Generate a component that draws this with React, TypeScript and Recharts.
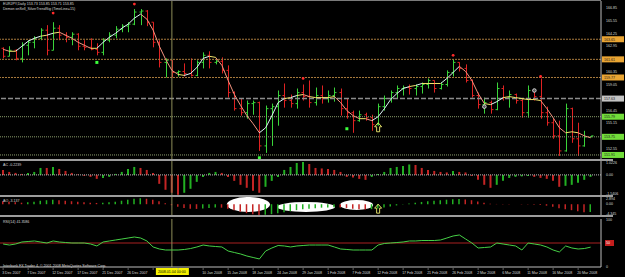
import React from 'react';
import { ComposedChart, Bar, Line, Scatter, XAxis, YAxis, ReferenceLine, ReferenceArea, Cell } from 'recharts';

// bar index -> date label, every 4th bar
const dateTickIdx = [0, 4, 8, 12, 16, 20, 24, 28, 32, 36, 40, 44, 48, 52, 56, 60, 64, 68, 72, 76, 80, 84, 88, 92];
const dateLabels = [
  '3 Dec 2007', '7 Dec 2007', '12 Dec 2007', '17 Dec 2007', '21 Dec 2007', '26 Dec 2007',
  '31 Dec 2007', '6 Jan 2008', '10 Jan 2008', '15 Jan 2008', '18 Jan 2008', '24 Jan 2008',
  '29 Jan 2008', '1 Feb 2008', '7 Feb 2008', '12 Feb 2008', '17 Feb 2008', '21 Feb 2008',
  '26 Feb 2008', '2 Mar 2008', '6 Mar 2008', '11 Mar 2008', '16 Mar 2008', '20 Mar 2008',
];
// labels covered by the crosshair date box
const hiddenDateIdx = [24, 28];

const opens = [
  162.73, 161.92, 162.53, 161.71, 163.04, 163.34, 163.75, 164.57, 162.53, 164.77,
  164.06, 163.85, 164.16, 162.94, 162.83, 162.63, 162.32, 163.55, 164.06, 164.67,
  164.98, 165.18, 166.41, 166.51, 165.38, 163.34, 161.30, 161.51, 160.28, 160.38,
  160.18, 159.98, 161.30, 162.02, 161.30, 161.41, 160.49, 158.24, 156.61, 156.20,
  157.12, 157.22, 152.83, 156.61, 156.81, 157.94, 157.43, 157.12, 158.24, 157.83,
  157.22, 157.94, 157.63, 157.94, 158.24, 156.61, 156.20, 155.39, 155.99, 155.69,
  154.98, 156.81, 157.63, 158.24, 158.65, 158.75, 158.65, 158.85, 159.06, 159.47,
  158.65, 159.06, 160.28, 161.30, 160.69, 159.47, 157.94, 157.02, 157.22, 156.51,
  158.65, 157.73, 158.04, 157.43, 156.20, 158.45, 157.83, 156.20, 155.18, 153.85,
  152.32, 156.61, 153.55, 152.83, 153.73,
];
const highs = [
  162.83, 162.94, 162.63, 163.34, 163.55, 163.96, 164.77, 165.08, 165.38, 165.08,
  164.36, 164.36, 164.26, 163.55, 163.75, 163.24, 163.75, 164.36, 164.98, 165.18,
  165.38, 166.71, 166.71, 166.61, 165.38, 163.55, 161.71, 161.51, 160.49, 161.20,
  161.71, 161.51, 162.32, 162.43, 161.61, 161.81, 161.00, 158.35, 157.63, 157.43,
  157.43, 157.32, 156.92, 157.12, 158.45, 159.16, 158.04, 158.65, 159.06, 159.47,
  158.75, 158.96, 158.45, 158.75, 158.65, 157.63, 156.41, 156.41, 156.20, 155.99,
  157.12, 157.94, 158.45, 158.96, 158.96, 159.06, 159.06, 159.26, 159.67, 159.47,
  159.26, 160.49, 161.61, 161.30, 161.10, 159.57, 158.24, 157.73, 157.43, 159.26,
  158.96, 158.45, 158.14, 157.63, 158.96, 158.45, 159.67, 156.81, 155.59, 155.39,
  157.12, 156.71, 155.18, 154.36, 153.85,
];
const lows = [
  161.71, 161.92, 161.51, 161.30, 162.02, 162.73, 163.55, 162.02, 162.53, 163.55,
  163.34, 163.04, 162.53, 162.53, 162.53, 162.02, 162.02, 163.34, 163.75, 164.36,
  164.36, 165.08, 165.08, 164.98, 162.83, 160.79, 159.77, 159.77, 159.87, 159.87,
  159.87, 159.90, 160.69, 160.69, 161.10, 160.18, 157.73, 156.41, 155.90, 155.59,
  155.99, 152.32, 152.12, 152.83, 154.88, 156.71, 156.71, 156.61, 157.43, 156.71,
  156.92, 157.12, 157.22, 157.32, 155.90, 155.59, 154.16, 155.28, 155.39, 154.36,
  154.88, 156.41, 157.22, 157.63, 157.94, 158.04, 157.94, 158.14, 158.65, 158.24,
  158.55, 158.85, 159.87, 160.38, 159.26, 157.73, 156.61, 156.10, 156.10, 156.45,
  157.43, 156.71, 157.12, 155.69, 155.69, 157.43, 155.59, 154.88, 153.55, 151.81,
  152.25, 153.14, 151.81, 152.75, 153.71,
];
const closes = [
  161.92, 162.53, 161.71, 163.04, 163.34, 163.75, 164.57, 162.53, 164.77, 164.06,
  163.85, 164.16, 162.94, 162.83, 162.63, 162.32, 163.55, 164.06, 164.67, 164.98,
  165.18, 166.41, 166.51, 165.38, 163.34, 161.30, 161.51, 160.28, 160.38, 160.18,
  159.98, 161.30, 162.02, 161.30, 161.41, 160.49, 158.24, 156.61, 156.20, 157.12,
  157.22, 152.83, 156.61, 156.81, 157.94, 157.43, 157.12, 158.24, 157.83, 157.22,
  157.94, 157.63, 157.94, 158.24, 156.61, 156.20, 155.39, 155.99, 155.69, 154.98,
  156.81, 157.63, 158.24, 158.65, 158.75, 158.65, 158.85, 159.06, 159.47, 158.65,
  159.06, 160.28, 161.30, 160.69, 159.47, 157.94, 157.02, 157.22, 156.51, 158.65,
  157.73, 158.04, 157.43, 156.20, 158.45, 157.83, 156.20, 155.18, 153.85, 152.32,
  156.61, 153.55, 152.83, 153.73, 153.85,
];
// SilverTrend line
const trend = [
  162.63, 162.43, 162.43, 162.94, 163.45, 163.75, 163.96, 164.06, 164.26, 164.36,
  164.06, 163.75, 163.34, 163.04, 162.73, 162.73, 163.34, 163.85, 164.26, 164.77,
  165.18, 165.79, 166.20, 165.69, 164.57, 162.94, 161.61, 160.49, 160.08, 159.98,
  160.18, 160.79, 161.71, 161.92, 161.81, 161.00, 159.47, 158.04, 156.92, 155.90,
  155.08, 154.16, 154.67, 155.90, 157.22, 157.63, 157.73, 157.94, 158.04, 157.83,
  157.73, 157.73, 157.73, 157.83, 157.22, 156.41, 155.90, 155.59, 155.59, 155.39,
  155.79, 156.61, 157.53, 158.14, 158.65, 158.85, 158.96, 159.16, 159.16, 159.16,
  159.16, 159.67, 160.28, 160.90, 160.38, 159.47, 158.14, 157.12, 157.02, 157.32,
  157.73, 157.83, 157.73, 157.63, 157.53, 157.53, 157.43, 156.61, 155.69, 154.67,
  154.16, 154.26, 154.16, 153.85, 153.65,
];
const acValues = [
  0.40, 0.24, 0.16, 0.08, 0.16, 0.24, 0.56, 0.56, 0.64, 0.48,
  0.32, 0.16, 0.04, -0.08, -0.16, -0.32, -0.24, -0.16, 0.08, 0.24,
  0.48, 0.64, 0.56, 0.40, 0.16, -0.72, -1.20, -1.44, -1.60, -1.44,
  -1.12, -0.56, -0.16, 0.16, 0.24, 0.16, -0.16, -0.48, -0.80, -1.04,
  -1.28, -1.44, -0.96, -0.48, -0.16, 0.40, 0.64, 0.96, 1.04, 0.88,
  0.56, 0.52, 0.48, 0.40, 0.24, -0.16, -0.20, -0.32, -0.40, -0.16,
  0.08, 0.24, 0.56, 0.64, 0.72, 0.84, 0.80, 0.56, 0.40, 0.32,
  0.24, 0.20, 0.32, 0.24, 0.20, -0.08, -0.40, -0.80, -1.04, -0.80,
  -0.48, -0.24, -0.16, -0.12, -0.08, -0.16, -0.24, -0.32, -0.48, -0.96,
  -0.88, -0.80, -0.64, -0.40, -0.16,
];
const aoValues = [
  1.2, 1.0, 0.8, 0.6, 0.8, 1.0, 1.4, 1.6, 1.8, 1.6,
  1.4, 1.2, 1.0, 0.8, 0.6, 0.5, 0.6, 0.8, 1.0, 1.4,
  1.8, 2.2, 2.4, 2.2, 1.8, 1.2, 0.4, -0.4, -1.0, -1.5,
  -1.8, -1.9, -1.7, -1.5, -1.3, -1.4, -1.8, -2.4, -3.0, -3.6,
  -4.0, -4.3, -4.2, -4.0, -3.6, -3.2, -2.8, -2.4, -2.0, -1.8,
  -1.6, -1.4, -1.3, -1.2, -1.3, -1.5, -1.8, -2.0, -2.1, -2.0,
  -1.7, -1.3, -0.9, -0.5, -0.1, 0.3, 0.6, 0.9, 1.2, 1.4,
  1.6, 1.8, 2.0, 2.1, 1.9, 1.6, 1.1, 0.6, 0.2, 0.1,
  0.1, 0.1, 0.0, -0.1, -0.1, -0.2, -0.3, -0.6, -1.0, -1.6,
  -2.0, -2.4, -2.8, -3.2, -3.14,
];
const rsiValues = [
  47.9, 45.8, 47.9, 52.1, 53.1, 54.2, 52.1, 50, 54.2, 52.1,
  51, 50, 50, 50, 47.9, 43.8, 52.1, 54.2, 56.3, 58.3,
  60.4, 62.5, 60.4, 54.2, 41.7, 37.5, 35.4, 35.4, 35.4, 36.5,
  38.5, 41.7, 45.8, 43.8, 42.7, 41.7, 33.3, 30.2, 27.1, 22.9,
  19.8, 16.7, 33.3, 39.6, 44.8, 43.8, 41.7, 43.8, 44.8, 45.8,
  45.8, 45.8, 45.8, 41.7, 37.5, 36.5, 35.4, 35.4, 35.4, 35.4,
  45.8, 49, 50, 51, 52.1, 54.2, 54.2, 55.2, 55.2, 55.2,
  56.3, 60.4, 64.6, 66.7, 58.3, 50, 39.6, 40.6, 41.7, 50,
  47.9, 45.8, 43.8, 35.4, 50, 47.9, 45.8, 41.7, 35.4, 31.3,
  43.8, 39.6, 37.5, 38.5, 41.4,
];

const fractalUp = [
  { i: 8, p: 166.3 }, { i: 21, p: 167.22 }, { i: 48, p: 159.67 }, { i: 72, p: 162.02 }, { i: 86, p: 159.87 },
];
const fractalDown = [{ i: 15, p: 161.3 }, { i: 41, p: 151.62 }, { i: 55, p: 154.57 }];
const circleMarks = [{ i: 77, p: 156.81 }, { i: 85, p: 158.45 }];
const arrowMain = [{ i: 60, p: 154.67 }];
const arrowAo = [{ i: 60, v: -2.0 }];
const aoEllipses = [
  { x1: 35.8, x2: 42.7, y1: -3.1, y2: 2.9 },
  { x1: 43.8, x2: 53.1, y1: -3.1, y2: 0.9 },
  { x1: 53.9, x2: 59.2, y1: -2.3, y2: 1.7 },
];

const priceTicks = [166.85, 165.55, 164.25, 162.95, 160.35, 159.05, 156.45, 155.15, 152.55];
const levels = [
  { p: 163.65, kind: 'orange' }, { p: 161.61, kind: 'orange' }, { p: 159.77, kind: 'orange' },
  { p: 157.63, kind: 'gray' },
  { p: 155.79, kind: 'green' }, { p: 153.75, kind: 'green' }, { p: 151.91, kind: 'green' },
];
const acTicks = [1.0226, 0, -1.5406];
const aoTicks = [2.894, 0, -4.345];
const rsiTicks = [100, 50, 0];
const CROSS_BAR = 27;

const X_DOMAIN: [number, number] = [-0.5, 95.66];
const TXT = '#d8d8d8';
const FONT = 'Liberation Sans, Arial, sans-serif';
const FS = 3.6;
const BULL = '#3ad43a';
const BEAR = '#e02222';
const LEVEL_STYLE: Record<string, { line: string; box: string; text: string; dash: string; w: number }> = {
  orange: { line: '#a97b3d', box: '#eaa533', text: '#202020', dash: '2 1', w: 1 },
  gray: { line: '#8c8c8c', box: '#c4c4c4', text: '#202020', dash: '5 2', w: 1.5 },
  green: { line: '#8b9d6c', box: '#72dd3a', text: '#202020', dash: '1 1', w: 1 },
};

function OhlcShape(props: any) {
  const { x, y, width, height, payload } = props;
  if (x == null || !payload) return null;
  const top = Math.min(y, y + height);
  const h = Math.abs(height);
  const range = payload.high - payload.low || 1;
  const cx = Math.round(x + width / 2) + 0.5;
  const yo = top + ((payload.high - payload.open) / range) * h;
  const yc = top + ((payload.high - payload.close) / range) * h;
  const color = payload.close >= payload.open ? BULL : BEAR;
  return (
    <g stroke={color} strokeWidth={1}>
      <line x1={cx} x2={cx} y1={top} y2={top + Math.max(h, 1)} />
      <line x1={cx - 2} x2={cx} y1={yo} y2={yo} />
      <line x1={cx} x2={cx + 2} y1={yc} y2={yc} />
    </g>
  );
}

// right axis label, kept inside the panel height
const makeTick = (fmt: (v: number) => string, h: number) => (props: any) => {
  const { x, y, payload } = props;
  const ty = Math.min(Math.max(y + 1.3, 3.3), h - 0.4);
  return (
    <text x={x + 1} y={ty} fontSize={FS} fill={TXT} fontFamily={FONT}>
      {fmt(payload.value)}
    </text>
  );
};

const boxLabel = (text: string, bg: string, fg: string) => (props: any) => {
  const vb = props.viewBox;
  if (!vb) return null;
  const x = vb.x + vb.width + 1;
  return (
    <g>
      <rect x={x} y={vb.y - 3} width={22} height={6} fill={bg} />
      <text x={x + 2} y={vb.y + 1.4} fontSize={FS} fill={fg} fontFamily={FONT}>{text}</text>
    </g>
  );
};

const dateBox = (props: any) => {
  const vb = props.viewBox;
  if (!vb) return null;
  const y = vb.y + vb.height + 1;
  return (
    <g>
      <rect x={vb.x - 16} y={y} width={33} height={7} fill="#f4f000" />
      <text x={vb.x} y={y + 5} fontSize={FS} fill="#000" textAnchor="middle" fontFamily={FONT}>2008.01.04 00:00</text>
    </g>
  );
};

function DateTick(props: any) {
  const { x, y, payload } = props;
  const k = dateTickIdx.indexOf(payload.value);
  const hidden = hiddenDateIdx.includes(payload.value);
  return (
    <g>
      <line x1={x} x2={x} y1={y - 1} y2={y + 1} stroke="#a0a0a0" strokeWidth={0.6} />
      {!hidden && <text x={x - 1} y={y + 5} fontSize={FS} fill={TXT} fontFamily={FONT}>{dateLabels[k]}</text>}
    </g>
  );
}

function segColor(i: number) {
  const d = trend[i + 1] - trend[i];
  if (Math.abs(d) < 0.12) return '#f2e46a';
  return d > 0 ? '#dff6f8' : '#f49480';
}

const histColor = (vals: number[], i: number) => (i > 0 && vals[i] > vals[i - 1] ? '#22b022' : '#c42424');

export default function App() {
  const rows = closes.map((close, i) => ({ i, open: opens[i], high: highs[i], low: lows[i], close, trend: trend[i] }));
  const acRows = acValues.map((v, i) => ({ i, v }));
  const aoRows = aoValues.map((v, i) => ({ i, v }));
  const rsiRows = rsiValues.map((v, i) => ({ i, v }));
  const last = trend.length - 1;
  const stops: React.ReactNode[] = [];
  for (let i = 0; i < last; i++) {
    const c = segColor(i);
    stops.push(<stop key={`a${i}`} offset={i / last} stopColor={c} />);
    stops.push(<stop key={`b${i}`} offset={(i + 1) / last} stopColor={c} />);
  }

  const cross = (key: string, withLabel?: boolean) => (
    <ReferenceLine key={key} x={CROSS_BAR} stroke="#8e8e58" strokeWidth={1} ifOverflow="visible" label={withLabel ? dateBox : undefined} />
  );
  const xAxisHidden = <XAxis type="number" dataKey="i" domain={X_DOMAIN} allowDataOverflow hide />;
  const sep = (top: number) => (
    <div style={{ position: 'absolute', left: 0, top, width: 613, height: 2, background: '#9c9c9c' }} />
  );
  const upArrow = (p: any) => (
    <path d={`M${p.cx},${p.cy - 5} L${p.cx + 3.5},${p.cy - 1} L${p.cx + 1.5},${p.cy - 1} L${p.cx + 1.5},${p.cy + 4} L${p.cx - 1.5},${p.cy + 4} L${p.cx - 1.5},${p.cy - 1} L${p.cx - 3.5},${p.cy - 1} Z`}
      fill="none" stroke="#f4f070" strokeWidth={0.9} />
  );

  return (
    <div style={{ position: 'fixed', left: 0, top: 0, width: 625, height: 277, background: '#000', overflow: 'hidden' }}>
      <div style={{ position: 'absolute', left: 0, top: 0, width: 601, height: 1, background: '#7a7a7a' }} />

      <div style={{ position: 'absolute', left: 0, top: 1 }}>
        <ComposedChart width={625} height={158} data={rows} margin={{ top: 0, right: 0, bottom: 0, left: 0 }}>
          <defs>
            <linearGradient id="trendGrad" x1="0" y1="0" x2="1" y2="0">{stops}</linearGradient>
          </defs>
          {xAxisHidden}
          <YAxis orientation="right" width={24} domain={[151.5, 167.53]} allowDataOverflow ticks={priceTicks}
            axisLine={{ stroke: '#bdbdbd' }} tickLine={false} tickSize={2} tick={makeTick((v) => v.toFixed(2), 158)} interval={0} />
          {levels.map((l) => {
            const s = LEVEL_STYLE[l.kind];
            return (
              <ReferenceLine key={l.p} y={l.p} stroke={s.line} strokeWidth={s.w} strokeDasharray={s.dash}
                label={boxLabel(l.p.toFixed(2), s.box, s.text)} />
            );
          })}
          {cross('c1')}
          <Bar dataKey={(d: any) => [d.low, d.high]} barSize={4} shape={<OhlcShape />} isAnimationActive={false} />
          <Line dataKey="trend" type="linear" stroke="url(#trendGrad)" strokeWidth={1} dot={false} isAnimationActive={false} />
          <Scatter data={fractalUp} dataKey="p" isAnimationActive={false}
            shape={(p: any) => <circle cx={p.cx} cy={p.cy} r={1.4} fill="#ff2a2a" />} />
          <Scatter data={fractalDown} dataKey="p" isAnimationActive={false}
            shape={(p: any) => <rect x={p.cx - 1.5} y={p.cy - 1.5} width={3} height={3} fill="#3cff3c" />} />
          <Scatter data={circleMarks} dataKey="p" isAnimationActive={false}
            shape={(p: any) => <circle cx={p.cx} cy={p.cy} r={1.8} fill="#555" stroke="#f0f0f0" strokeWidth={0.8} />} />
          <Scatter data={arrowMain} dataKey="p" isAnimationActive={false} shape={upArrow} />
        </ComposedChart>
      </div>

      {sep(159)}
      <div style={{ position: 'absolute', left: 0, top: 161 }}>
        <ComposedChart width={625} height={34} data={acRows} margin={{ top: 0, right: 0, bottom: 0, left: 0 }}>
          {xAxisHidden}
          <YAxis orientation="right" width={24} domain={[-1.62, 1.12]} allowDataOverflow ticks={acTicks} interval={0}
            axisLine={{ stroke: '#bdbdbd' }} tickLine={false} tickSize={2}
            tick={makeTick((v) => (v === 0 ? '0.00' : v.toFixed(4)), 34)} />
          <ReferenceLine y={0} stroke="#bcbcbc" strokeDasharray="1 1" />
          {cross('c2')}
          <Bar dataKey="v" barSize={2} isAnimationActive={false}>
            {acRows.map((r) => <Cell key={r.i} fill={histColor(acValues, r.i)} />)}
          </Bar>
        </ComposedChart>
      </div>

      {sep(195)}
      <div style={{ position: 'absolute', left: 0, top: 197 }}>
        <ComposedChart width={625} height={18} data={aoRows} margin={{ top: 0, right: 0, bottom: 0, left: 0 }}>
          {xAxisHidden}
          <YAxis orientation="right" width={24} domain={[-4.345, 2.894]} allowDataOverflow ticks={aoTicks} interval={0}
            axisLine={{ stroke: '#bdbdbd' }} tickLine={false} tickSize={2}
            tick={makeTick((v) => (v === 0 ? '0.00' : v.toFixed(3)), 18)} />
          {aoEllipses.map((e, k) => (
            <ReferenceArea key={k} x1={e.x1} x2={e.x2} y1={e.y1} y2={e.y2} ifOverflow="visible"
              shape={(p: any) => <ellipse cx={p.x + p.width / 2} cy={p.y + p.height / 2} rx={Math.abs(p.width) / 2} ry={Math.abs(p.height) / 2} fill="#ffffff" />} />
          ))}
          {cross('c3')}
          <Bar dataKey="v" barSize={1.5} isAnimationActive={false}>
            {aoRows.map((r) => <Cell key={r.i} fill={histColor(aoValues, r.i)} />)}
          </Bar>
          <Scatter data={arrowAo} dataKey="v" isAnimationActive={false} shape={upArrow} />
        </ComposedChart>
      </div>

      {sep(215)}
      <div style={{ position: 'absolute', left: 0, top: 217 }}>
        <ComposedChart width={625} height={60} data={rsiRows} margin={{ top: 2, right: 0, bottom: 0, left: 0 }}>
          <XAxis type="number" dataKey="i" domain={X_DOMAIN} allowDataOverflow ticks={dateTickIdx} interval={0}
            height={10} axisLine={{ stroke: '#bdbdbd' }} tickLine={false} tickSize={0} tick={<DateTick />} />
          <YAxis orientation="right" width={24} domain={[0, 100]} ticks={rsiTicks} interval={0}
            axisLine={{ stroke: '#bdbdbd' }} tickLine={false} tickSize={2}
            tick={(p: any) =>
              p.payload.value === 50 ? (
                <g>
                  <rect x={p.x} y={p.y - 3} width={9} height={6} fill="#c41e1e" />
                  <text x={p.x + 1} y={p.y + 1.3} fontSize={FS} fill="#fff" fontFamily={FONT}>50</text>
                </g>
              ) : (
                <text x={p.x + 1} y={Math.max(p.y + 1.3, 3.5)} fontSize={FS} fill={TXT} fontFamily={FONT}>{p.payload.value}</text>
              )
            } />
          <ReferenceLine y={50} stroke="#a82020" strokeWidth={1} />
          {cross('c4', true)}
          <Line dataKey="v" type="linear" stroke="#46d046" strokeWidth={1} dot={false} isAnimationActive={false} />
        </ComposedChart>
      </div>

      <svg width={625} height={277} style={{ position: 'absolute', left: 0, top: 0, pointerEvents: 'none' }}
        fontFamily={FONT} fontSize={FS} fill={TXT}>
        <text x={3} y={5}>EURJPY,Daily  153.73 153.85 153.71 153.85</text>
        <text x={3} y={10}>Demon onSell_SilverTrendSig (TimeLine=15)</text>
        <text x={3} y={166}>AC -0.2239</text>
        <text x={3} y={202}>AO -3.137</text>
        <text x={3} y={223}>RSI(14) 41.3586</text>
        <text x={3} y={266.5}>Interbank FX Trader 4, © 2001-2008 MetaQuotes Software Corp.</text>
      </svg>
    </div>
  );
}
